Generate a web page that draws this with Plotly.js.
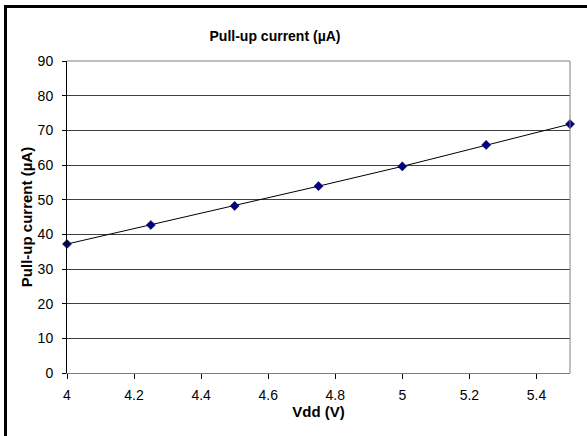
<!DOCTYPE html>
<html>
<head>
<meta charset="utf-8">
<script src="https://cdn.plot.ly/plotly-3.0.1.min.js"></script>
<style>
  html, body { margin: 0; padding: 0; background: #fff; }
  #wrap { position: relative; width: 587px; height: 436px; overflow: hidden; }
  #chart { position: absolute; left: 0; top: 0; width: 587px; height: 436px; }
  #frame { position: absolute; left: 4px; top: 5px; width: 700px; height: 600px;
           border-left: 3px solid #000; border-top: 3px solid #000; pointer-events: none; }
</style>
</head>
<body>
<div id="wrap">
  <div id="chart"></div>
  <div id="frame"></div>
</div>
<script>
const vdd = [4, 4.25, 4.5, 4.75, 5, 5.25, 5.5];
const pullUpCurrent = [37.2, 42.7, 48.2, 53.9, 59.6, 65.8, 71.8];
const xTicks = [4, 4.2, 4.4, 4.6, 4.8, 5, 5.2, 5.4];
const yTicks = [0, 10, 20, 30, 40, 50, 60, 70, 80, 90];
const chartTitle = 'Pull-up current (µA)';
const xTitle = 'Vdd (V)';
const yTitle = 'Pull-up current (µA)';

const FONT = 'Liberation Sans, Arial, Helvetica, sans-serif';

const trace = {
  x: vdd,
  y: pullUpCurrent,
  type: 'scatter',
  mode: 'lines+markers',
  line: { color: '#000000', width: 1 },
  marker: { symbol: 'diamond', size: 7, color: '#000080', line: { color: '#000040', width: 0.5 } },
  cliponaxis: false,
  hoverinfo: 'skip'
};

const layout = {
  width: 587,
  height: 436,
  margin: { l: 67, r: 17, t: 61, b: 63, autoexpand: false },
  paper_bgcolor: 'rgba(0,0,0,0)',
  plot_bgcolor: '#ffffff',
  showlegend: false,
  font: { family: FONT, color: '#000' },
  title: {
    text: '<b>' + chartTitle + '</b>',
    font: { family: FONT, size: 14, color: '#000' },
    xref: 'container', yref: 'container',
    x: 275 / 587, y: 1 - 36 / 436,
    xanchor: 'center', yanchor: 'middle'
  },
  xaxis: {
    range: [4, 5.5],
    tickvals: xTicks,
    ticktext: xTicks.map(String),
    ticks: 'outside', ticklen: 5, tickcolor: '#000', tickwidth: 1,
    tickfont: { family: FONT, size: 14, color: '#000' },
    ticklabelstandoff: 4,
    showgrid: false,
    zeroline: false,
    showline: true, linecolor: '#808080', linewidth: 1,
    mirror: false,
    automargin: false,
    title: { text: '<b>' + xTitle + '</b>', font: { family: FONT, size: 15, color: '#000' }, standoff: 0 }
  },
  yaxis: {
    range: [0, 90],
    tickvals: yTicks,
    ticktext: yTicks.map(String),
    ticks: 'outside', ticklen: 4, tickcolor: '#000', tickwidth: 1,
    tickfont: { family: FONT, size: 14, color: '#000' },
    ticklabelstandoff: 6,
    showgrid: true, gridcolor: '#404040', gridwidth: 1,
    zeroline: false,
    showline: true, linecolor: '#000', linewidth: 1,
    automargin: false,
    title: { text: '<b>' + yTitle + '</b>', font: { family: FONT, size: 15, color: '#000' }, standoff: 1 }
  },
  shapes: [
    { type: 'line', xref: 'paper', yref: 'paper', x0: 1, x1: 1, y0: 0, y1: 1,
      line: { color: '#808080', width: 1 } },
    { type: 'line', xref: 'paper', yref: 'paper', x0: 0, x1: 1, y0: 1, y1: 1,
      line: { color: '#808080', width: 1 } }
  ]
};

Plotly.newPlot('chart', [trace], layout, { staticPlot: true, displayModeBar: false });
</script>
</body>
</html>
